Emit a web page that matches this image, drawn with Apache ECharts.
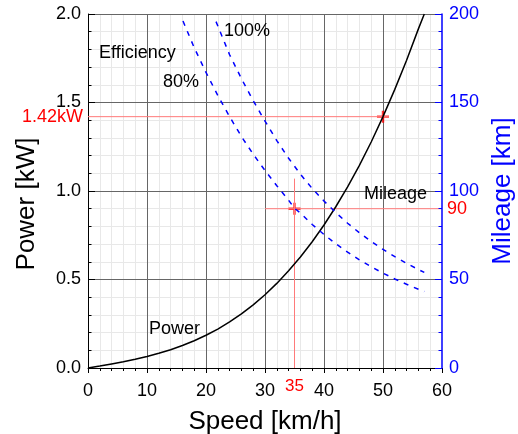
<!DOCTYPE html>
<html>
<head>
<meta charset="utf-8">
<script src="https://cdn.jsdelivr.net/npm/echarts@6/dist/echarts.min.js"></script>
<style>
  html, body { margin: 0; padding: 0; background: #fff; }
  #main { width: 518px; height: 434px; }
</style>
</head>
<body>
<div id="main"></div>
<script>
var font = "'Liberation Sans', Arial, sans-serif";

// power curve, kW vs km/h
var powerSpeed = [0, 2, 4, 6, 8, 10, 12, 14, 16, 18, 20, 22, 24, 26, 28, 30, 32, 34, 36, 38, 40, 42, 44, 46, 48, 50, 52, 54, 56, 57];
var powerValue = [0, 0.011, 0.023, 0.035, 0.049, 0.065, 0.083, 0.103, 0.127, 0.154, 0.185, 0.22, 0.26, 0.306, 0.357, 0.414, 0.478, 0.549, 0.627, 0.713, 0.808, 0.911, 1.023, 1.145, 1.277, 1.42, 1.574, 1.739, 1.916, 2.0];

// mileage, km vs km/h
var mileage100Speed = [21.7, 24, 26, 28, 30, 32, 34, 36, 38, 40, 42, 44, 46, 48, 50, 52, 54, 56, 57];
var mileage100Value = [195.7, 177, 163.5, 151, 139.5, 128.5, 118.5, 109.5, 101.4, 94.3, 87.8, 81.8, 76.4, 71.5, 67.0, 62.9, 59.1, 55.6, 54.0];
var mileage80Speed = [16.1, 18, 20, 22, 24, 26, 28, 30, 32, 34, 35, 36, 38, 40, 42, 44, 46, 48, 50, 52, 54, 56, 57];
var mileage80Value = [196, 181, 167, 154, 142, 130.8, 120.8, 111.6, 103, 94.8, 90.2, 87.6, 81.1, 75.4, 70.2, 65.5, 61.1, 57.2, 53.6, 50.3, 47.3, 44.5, 43.2];

// read-off points
var powerMark = [50, 1.42];
var mileageMark = [35, 90];

function pairs(xs, ys) {
  return xs.map(function (x, i) { return [x, ys[i]]; });
}

var cross = 'path://M4,0H6V4H10V6H6V10H4V6H0V4H4Z';
var guide = { color: '#ff7a7a', width: 1 };
var redLabel = { color: '#ff0000', fontSize: 18, fontFamily: font };
var majorLine = { show: true, showMinLine: false, lineStyle: { color: '#666', width: 1 } };
var minorLine = { show: true, lineStyle: { color: '#e8e8e8', width: 1 } };

var myChart = echarts.init(document.getElementById('main'));

var option = {
  animation: false,
  textStyle: { fontFamily: font },
  grid: { left: 88, right: 76, top: 14, bottom: 66, outerBoundsMode: 'none', containLabel: false },
  xAxis: [{
    type: 'value',
    min: 0,
    max: 60,
    interval: 10,
    z: 2,
    name: 'Speed [km/h]',
    nameLocation: 'middle',
    nameGap: 41,
    nameTextStyle: { fontSize: 26, color: '#000', fontFamily: font },
    axisLine: { onZero: false, lineStyle: { color: '#000', width: 1 } },
    axisTick: { show: true, inside: false, length: 5, lineStyle: { color: '#000' } },
    minorTick: { show: true, splitNumber: 5, length: 3, lineStyle: { color: '#000' } },
    axisLabel: { fontSize: 18, color: '#000', margin: 14, fontFamily: font },
    splitLine: { show: true, showMinLine: false, showMaxLine: false, lineStyle: { color: '#666', width: 1 } },
    minorSplitLine: { show: false }
  }, {
    // light minor grid, kept underneath
    type: 'value',
    min: 0,
    max: 60,
    interval: 10,
    z: 0,
    axisLine: { show: false, onZero: false },
    axisTick: { show: false },
    axisLabel: { show: false },
    minorTick: { show: false, splitNumber: 5 },
    splitLine: { show: false },
    minorSplitLine: minorLine
  }],
  yAxis: [{
    type: 'value',
    min: 0,
    max: 2,
    interval: 0.5,
    z: 3,
    name: 'Power [kW]',
    nameLocation: 'middle',
    nameGap: 48,
    nameTextStyle: { fontSize: 26, color: '#000', fontFamily: font, padding: [0, 26, 0, 0] },
    axisLine: { show: true, onZero: false, lineStyle: { color: '#000', width: 1 } },
    axisTick: { show: true, inside: true, length: 7, lineStyle: { color: '#000' } },
    minorTick: { show: true, splitNumber: 5, length: 3.5, lineStyle: { color: '#000' } },
    axisLabel: {
      fontSize: 18, color: '#000', margin: 7, fontFamily: font,
      formatter: function (v) { return v.toFixed(1); }
    },
    splitLine: majorLine,
    minorSplitLine: { show: false }
  }, {
    type: 'value',
    position: 'right',
    min: 0,
    max: 200,
    interval: 50,
    z: 4,
    name: 'Mileage [km]',
    nameLocation: 'middle',
    nameGap: 44,
    nameTextStyle: { fontSize: 26, color: '#0000ff', fontFamily: font },
    axisLine: { show: true, onZero: false, lineStyle: { color: '#0000ff', width: 1.5 } },
    axisTick: { show: true, inside: true, length: 7, lineStyle: { color: '#0000ff' } },
    minorTick: { show: true, splitNumber: 5, length: 3.5, lineStyle: { color: '#0000ff' } },
    axisLabel: { fontSize: 18, color: '#0000ff', margin: 7, fontFamily: font },
    splitLine: { show: false }
  }, {
    type: 'value',
    position: 'left',
    min: 0,
    max: 2,
    interval: 0.5,
    z: 0,
    axisLine: { show: false, onZero: false },
    axisTick: { show: false },
    axisLabel: { show: false },
    minorTick: { show: false, splitNumber: 5 },
    splitLine: { show: false },
    minorSplitLine: minorLine
  }],
  graphic: [
    { type: 'text', left: 99, top: 44, z: 10, style: { text: 'Efficiency', fontSize: 18, fill: '#000', fontFamily: font } },
    { type: 'text', left: 163, top: 73, z: 10, style: { text: '80%', fontSize: 18, fill: '#000', fontFamily: font } },
    { type: 'text', left: 224, top: 22, z: 10, style: { text: '100%', fontSize: 18, fill: '#000', fontFamily: font } },
    { type: 'text', left: 364, top: 185, z: 10, style: { text: 'Mileage', fontSize: 18, fill: '#000', fontFamily: font } },
    { type: 'text', left: 149, top: 320, z: 10, style: { text: 'Power', fontSize: 18, fill: '#000', fontFamily: font } }
  ],
  series: [{
    name: 'guide power',
    type: 'line',
    yAxisIndex: 0,
    silent: true,
    symbol: 'circle',
    symbolSize: 0,
    lineStyle: guide,
    data: [
      { value: [0, powerMark[1]], label: { show: true, position: 'left', distance: 5, formatter: powerMark[1] + 'kW', ...redLabel } },
      [powerMark[0] + 1, powerMark[1]]
    ]
  }, {
    name: 'guide mileage',
    type: 'line',
    yAxisIndex: 1,
    silent: true,
    symbol: 'circle',
    symbolSize: 0,
    lineStyle: guide,
    data: [
      [30, mileageMark[1]],
      { value: [60, mileageMark[1]], label: { show: true, position: 'right', distance: 5, formatter: String(mileageMark[1]), ...redLabel } }
    ]
  }, {
    name: 'guide speed',
    type: 'line',
    yAxisIndex: 1,
    silent: true,
    symbol: 'circle',
    symbolSize: 0,
    lineStyle: guide,
    data: [
      { value: [mileageMark[0], 0], label: { show: true, position: 'bottom', distance: 10, formatter: String(mileageMark[0]), ...redLabel, fontSize: 17 } },
      [mileageMark[0], 107]
    ]
  }, {
    name: 'Power',
    type: 'line',
    yAxisIndex: 0,
    showSymbol: false,
    lineStyle: { color: '#000', width: 1.5 },
    data: pairs(powerSpeed, powerValue)
  }, {
    name: '100%',
    type: 'line',
    yAxisIndex: 1,
    showSymbol: false,
    lineStyle: { color: '#0000ff', width: 1.5, type: [5, 6] },
    data: pairs(mileage100Speed, mileage100Value)
  }, {
    name: '80%',
    type: 'line',
    yAxisIndex: 1,
    showSymbol: false,
    lineStyle: { color: '#0000ff', width: 1.5, type: [5, 6] },
    data: pairs(mileage80Speed, mileage80Value)
  }, {
    name: 'power mark',
    type: 'scatter',
    yAxisIndex: 0,
    symbol: cross,
    symbolSize: 12,
    itemStyle: { color: '#ff0000' },
    data: [powerMark]
  }, {
    name: 'mileage mark',
    type: 'scatter',
    yAxisIndex: 1,
    symbol: cross,
    symbolSize: 12,
    itemStyle: { color: '#ff0000' },
    data: [mileageMark]
  }]
};

myChart.setOption(option);
</script>
</body>
</html>
